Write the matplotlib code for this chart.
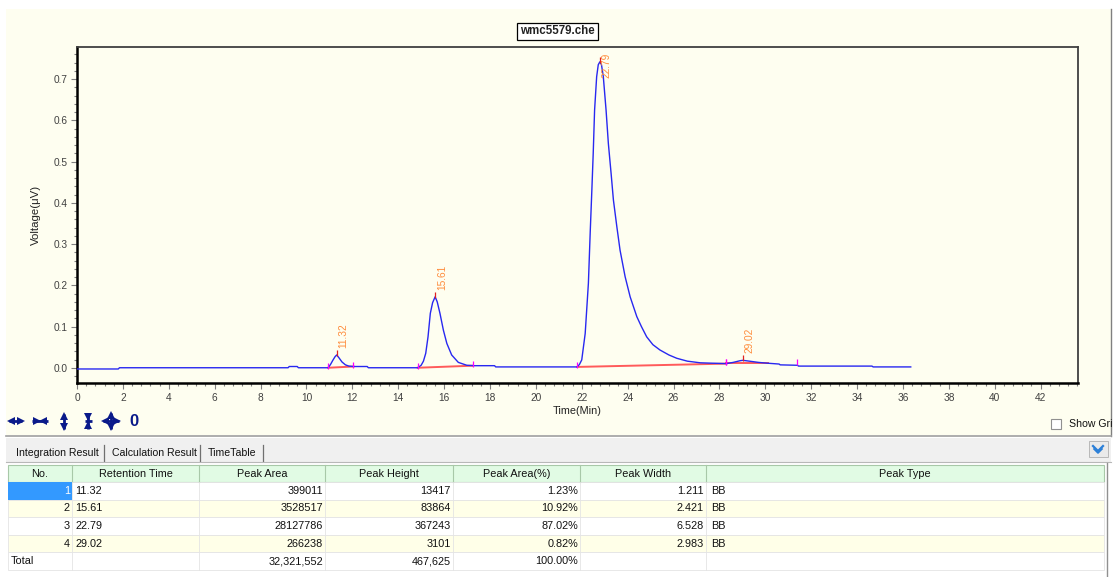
import matplotlib
matplotlib.use("Agg")
import matplotlib.pyplot as plt
from matplotlib.patches import Rectangle
from matplotlib.ticker import MultipleLocator, FormatStrFormatter

plt.rcParams['font.family'] = ['Liberation Sans', 'DejaVu Sans']

# chromatogram trace (time in min, voltage)
times = [0.0, 1.8, 1.85, 9.2, 9.25, 9.6, 9.65, 10.95, 11.05, 11.15, 11.25, 11.32,
         11.42, 11.55, 11.7, 11.85, 12.05, 12.65, 12.7, 14.85, 15.0, 15.1, 15.2,
         15.3, 15.4, 15.5, 15.61, 15.7, 15.82, 15.97, 16.12, 16.33, 16.62, 16.99,
         17.3, 18.2, 18.25, 21.8, 21.9, 22.0, 22.15, 22.29, 22.37, 22.44, 22.5,
         22.56, 22.65, 22.72, 22.79, 22.86, 22.94, 23.06, 23.16, 23.28, 23.38,
         23.53, 23.67, 23.89, 24.11, 24.4, 24.6, 24.83, 25.1, 25.41, 25.8, 26.14,
         26.6, 27.16, 27.7, 28.3, 28.6, 28.9, 29.02, 29.3, 29.7, 30.1, 30.6, 30.65,
         31.4, 31.45, 34.65, 34.7, 36.34]
volts = [-0.003, -0.003, 0.0, 0.0, 0.003, 0.003, 0.0, 0.0, 0.008, 0.018, 0.027, 0.031,
         0.024, 0.014, 0.007, 0.004, 0.003, 0.003, 0.0, 0.0, 0.006, 0.016, 0.035,
         0.075, 0.132, 0.158, 0.172, 0.16, 0.132, 0.091, 0.059, 0.031, 0.013, 0.006,
         0.005, 0.005, 0.002, 0.002, 0.008, 0.019, 0.083, 0.205, 0.33, 0.43, 0.52,
         0.625, 0.706, 0.735, 0.742, 0.735, 0.706, 0.625, 0.544, 0.471, 0.407,
         0.342, 0.285, 0.221, 0.172, 0.124, 0.1, 0.075, 0.056, 0.043, 0.031, 0.023,
         0.016, 0.012, 0.011, 0.010, 0.013, 0.017, 0.018, 0.016, 0.013, 0.011, 0.009,
         0.007, 0.006, 0.004, 0.004, 0.002, 0.002]

# peaks
peak_rt = [11.32, 15.61, 22.79, 29.02]
peak_top = [0.031, 0.172, 0.742, 0.018]
peak_start = [10.95, 14.85, 21.8, 28.3]
peak_end = [12.05, 17.25, 28.3, 31.4]
base_start = [0.0, 0.0, 0.002, 0.011]
base_end = [0.003, 0.005, 0.010, 0.011]
base_stop = [12.05, 17.25, 28.3, 30.1]

# table
col_names = ['No.', 'Retention Time', 'Peak Area', 'Peak Height', 'Peak Area(%)',
             'Peak Width', 'Peak Type']
rows_no = ['1', '2', '3', '4', 'Total']
rows_rt = ['11.32', '15.61', '22.79', '29.02', '']
rows_area = ['399011', '3528517', '28127786', '266238', '32,321,552']
rows_height = ['13417', '83864', '367243', '3101', '467,625']
rows_pct = ['1.23%', '10.92%', '87.02%', '0.82%', '100.00%']
rows_width = ['1.211', '2.421', '6.528', '2.983', '']
rows_type = ['BB', 'BB', 'BB', 'BB', '']

W, H = 1115, 577
fig = plt.figure(figsize=(W / 100, H / 100), dpi=100)
fig.patch.set_facecolor('white')

# pixel-space layer for the window chrome
bg = fig.add_axes([0, 0, 1, 1], zorder=0)
bg.set_xlim(0, W)
bg.set_ylim(H, 0)
bg.axis('off')
cream = '#FEFEF0'
bg.add_patch(Rectangle((6, 9), 1105, 426, facecolor=cream, edgecolor='none'))
bg.plot([1111, 1111], [9, 436], color='#808080', lw=1)
bg.plot([6, 1111], [436, 436], color='#A0A0A0', lw=1.2)
bg.add_patch(Rectangle((6, 438), 1105, 24, facecolor='#F0F0F0', edgecolor='none'))

# title box
bg.text(557.5, 31.5, 'wmc5579.che', ha='center', va='center', fontsize=8.3,
        fontweight='bold', color='#222222',
        bbox=dict(boxstyle='square,pad=0.25', facecolor='white', edgecolor='black', lw=0.9))

# toolbar icons (shaft + arrow heads)
navy = '#0A1A8A'
icon = dict(color=navy, ls='none', ms=5.2, mew=0)
def shaft(xs, ys):
    bg.plot(xs, ys, color=navy, lw=2.0, solid_capstyle='butt')
shaft([9, 22], [421, 421])
bg.plot([10.5], [421], marker='<', **icon)
bg.plot([20.5], [421], marker='>', **icon)
shaft([32, 48], [421, 421])
bg.plot([37], [421], marker='>', **icon)
bg.plot([43], [421], marker='<', **icon)
shaft([64, 64], [413.5, 428.5])
bg.plot([64], [415.5], marker='^', **icon)
bg.plot([64], [426.5], marker='v', **icon)
shaft([88, 88], [413, 429])
bg.plot([88], [417], marker='v', **icon)
bg.plot([88], [425], marker='^', **icon)
shaft([84.5, 91.5], [421, 421])
shaft([103, 119], [421, 421])
shaft([111, 111], [413, 429])
bg.plot([105], [421], marker='<', **icon)
bg.plot([117], [421], marker='>', **icon)
bg.plot([111], [415], marker='^', **icon)
bg.plot([111], [427], marker='v', **icon)
bg.text(134, 421.5, '0', ha='center', va='center', fontsize=12, fontweight='bold', color=navy)

# show grid checkbox
bg.add_patch(Rectangle((1051, 419), 10, 10, facecolor='white', edgecolor='#909090', lw=0.8))
bg.text(1069, 424, 'Show Gri', ha='left', va='center', fontsize=7.6, color='#111111')

# tabs
for label, x in zip(['Integration Result', 'Calculation Result', 'TimeTable'], [16, 112, 208]):
    bg.text(x, 453.5, label, ha='left', va='center', fontsize=7.6, color='#111111')
for x in [104, 200, 263]:
    bg.plot([x, x], [445, 461], color='#707070', lw=0.9)
bg.plot([6, 1111], [462, 462], color='#B8B8B8', lw=0.8)
bg.add_patch(Rectangle((1089, 441), 19, 16, facecolor='#EAEAEA', edgecolor='#B0B0B0', lw=0.6))
bg.plot([1093, 1098, 1103], [446, 451, 446], color='#2A7FD8', lw=1.6)
bg.plot([1094, 1098, 1102], [449, 453, 449], color='#2A7FD8', lw=1.2)

# table grid
fs = 7.8
edges = [8, 72, 199, 325, 453, 580, 706, 1104]
top_hdr, row_h = 465, 17.6
bg.add_patch(Rectangle((8, top_hdr), edges[-1] - 8, 17, facecolor='#E1FBE4',
                       edgecolor='#A8C8A8', lw=0.8))
for x in edges[1:-1]:
    bg.plot([x, x], [top_hdr, top_hdr + 17], color='#A8C8A8', lw=0.8)
for i, name in enumerate(col_names):
    bg.text((edges[i] + edges[i + 1]) / 2, top_hdr + 8.7, name, ha='center', va='center',
            fontsize=fs, color='#111111')
cols = [rows_no, rows_rt, rows_area, rows_height, rows_pct, rows_width, rows_type]
aligns = ['right', 'left', 'right', 'right', 'right', 'right', 'left']
y0 = top_hdr + 17
for r in range(len(rows_no)):
    yt = y0 + r * row_h
    bg.add_patch(Rectangle((8, yt), edges[-1] - 8, row_h,
                           facecolor='#FFFFE8' if r % 2 == 1 else 'white',
                           edgecolor='#E4E4E4', lw=0.6))
    for x in edges[1:-1]:
        bg.plot([x, x], [yt, yt + row_h], color='#E4E4E4', lw=0.6)
    if r == 0:
        bg.add_patch(Rectangle((8, yt), 64, row_h, facecolor='#3399FF', edgecolor='none'))
    for c, col in enumerate(cols):
        txt = col[r]
        if c == 0 and txt == 'Total':
            bg.text(11, yt + row_h / 2, txt, ha='left', va='center', fontsize=fs, color='#111111')
            continue
        xx = edges[c] + 3 if aligns[c] == 'left' else edges[c + 1] - 2
        if c == 6:
            xx = edges[c] + 5
        bg.text(xx, yt + row_h / 2, txt, ha=aligns[c], va='center', fontsize=fs,
                color='white' if (r == 0 and c == 0) else '#111111')
bg.plot([1107, 1107], [463, 577], color='#909090', lw=1)

# chart
ax = fig.add_axes([77 / W, (H - 383) / H, (1078 - 77) / W, (383 - 47) / H], zorder=1)
ax.set_facecolor(cream)
ax.plot(times, volts, color='#2828F0', lw=1.0, zorder=3)
for i in range(len(peak_rt)):
    ax.plot([peak_start[i], base_stop[i]], [base_start[i], base_end[i]],
            color='#FF5A5A', lw=1.4, zorder=2)
    ax.plot([peak_start[i], peak_end[i]], [base_start[i] + 0.004, base_end[i] + 0.004],
            ls='none', marker='|', color='#FF00FF', ms=4, mew=0.9, zorder=4)
    ax.plot([peak_rt[i]], [peak_top[i] + 0.005], ls='none', marker='|', color='#E02020',
            ms=4, mew=0.9, zorder=4)
    if peak_top[i] > 0.6:
        ax.annotate('%.2f' % peak_rt[i], xy=(peak_rt[i], 1), xycoords=('data', 'axes fraction'),
                    xytext=(5, -4), textcoords='offset points', rotation=90, ha='center',
                    va='top', fontsize=7.3, color='#FF8C3C')
    else:
        ax.annotate('%.2f' % peak_rt[i], xy=(peak_rt[i], peak_top[i]),
                    xytext=(5, 5), textcoords='offset points', rotation=90, ha='center',
                    va='bottom', fontsize=7.3, color='#FF8C3C')

ax.set_xlim(0, 43.63)
ax.set_ylim(-0.037, 0.778)
ax.set_xticks(range(0, 43, 2))
ax.set_yticks([0.0, 0.1, 0.2, 0.3, 0.4, 0.5, 0.6, 0.7])
ax.yaxis.set_major_formatter(FormatStrFormatter('%.1f'))
ax.xaxis.set_minor_locator(MultipleLocator(0.4))
ax.yaxis.set_minor_locator(MultipleLocator(0.02))
ax.tick_params(which='major', direction='out', length=4, width=0.8, color='#808080',
               labelsize=7.3, labelcolor='#404040', pad=3)
ax.tick_params(which='minor', direction='out', length=2, width=0.8, color='#808080')
for s in ['left', 'bottom']:
    ax.spines[s].set_linewidth(1.8)
    ax.spines[s].set_color('black')
for s in ['top', 'right']:
    ax.spines[s].set_linewidth(1.3)
    ax.spines[s].set_color('#404040')
ax.set_xlabel('Time(Min)', fontsize=7.8, color='#222222', labelpad=2)
ax.set_ylabel('Voltage(\u03bcV)', fontsize=8.2, color='#222222', labelpad=9)

fig.savefig('out.png', dpi=100, facecolor='white')
